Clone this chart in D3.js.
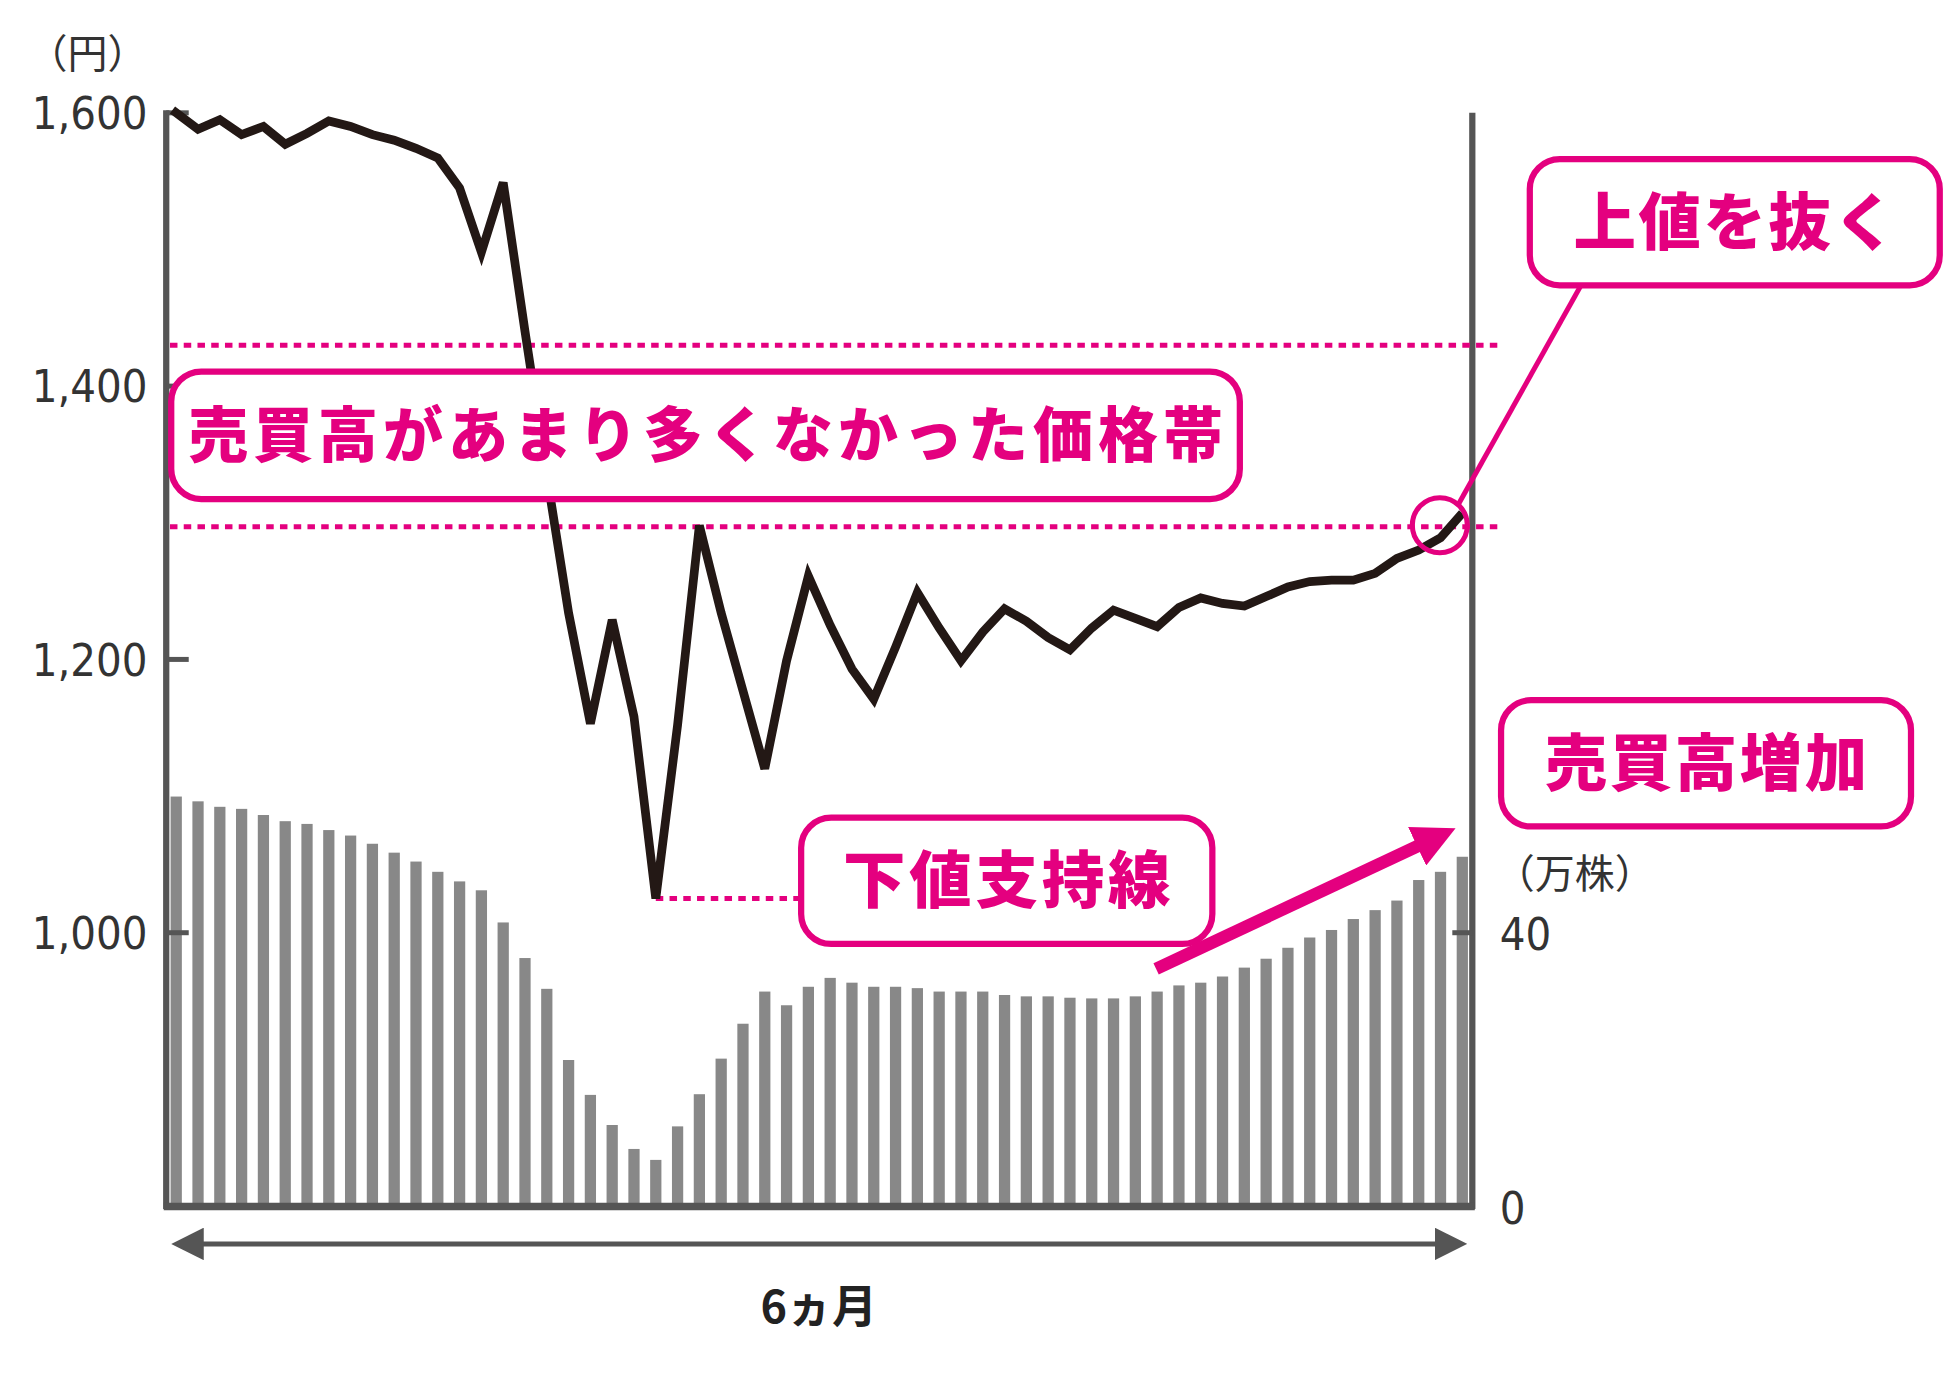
<!DOCTYPE html>
<html><head><meta charset="utf-8">
<script src="https://cdn.jsdelivr.net/npm/d3@7"></script>
<style>body{margin:0;background:#fff}</style>
</head><body><div class="chart"></div>
<script>
const WIDTH = 1956, HEIGHT = 1378;
const VW = 1565, VH = 1102;
const PINK = "#e4007f";
const FONT = "'Noto Sans CJK JP', sans-serif";
const NUMFONT = "'DejaVu Sans Condensed', 'Liberation Sans Narrow', sans-serif";

var priceTicks = [1000, 1200, 1400, 1600];
var priceLabels = ["1,000", "1,200", "1,400", "1,600"];
var volumeTicks = [0, 40];
var volume = [59.9, 59.2, 58.4, 58.1, 57.2, 56.3, 55.9, 55.0, 54.2, 53.0,
  51.7, 50.4, 48.9, 47.5, 46.2, 41.5, 36.3, 31.8, 21.4, 16.3,
  11.9, 8.4, 6.8, 11.7, 16.4, 21.6, 26.7, 31.4, 29.4, 32.1,
  33.4, 32.7, 32.1, 32.1, 31.9, 31.4, 31.4, 31.4, 30.9, 30.7,
  30.7, 30.5, 30.4, 30.4, 30.7, 31.4, 32.3, 32.7, 33.6, 34.9,
  36.2, 37.8, 39.3, 40.4, 42.0, 43.3, 44.7, 47.7, 48.9, 51.1];
var price = [1602, 1588, 1595, 1584, 1590, 1577, 1585, 1594, 1590, 1584,
  1580, 1574, 1567, 1545, 1498, 1549, 1440, 1335, 1234, 1153,
  1229, 1158, 1025, 1152, 1298, 1234, 1177, 1120, 1199, 1261,
  1225, 1193, 1171, 1209, 1249, 1223, 1199, 1220, 1237, 1228,
  1216, 1207, 1223, 1236, 1230, 1224, 1238, 1245, 1241, 1239,
  1246, 1253, 1257, 1258, 1258, 1263, 1274, 1280, 1289, 1307];
var bandTop = 1430, bandBottom = 1297, supportPrice = 1025;

var svg = d3.select('.chart').append('svg')
  .attr('width', WIDTH).attr('height', HEIGHT)
  .attr('viewBox', '0 0 ' + VW + ' ' + VH);

var x = d3.scalePoint().domain(d3.range(volume.length)).range([141, 1170]);
var yP = d3.scaleLinear().domain([1000, 1600]).range([746, 90]);
var yV = d3.scaleLinear().domain([0, 40]).range([965, 746]);

// volume bars
svg.append('g').selectAll('rect').data(volume).enter().append('rect')
  .attr('x', (d, i) => x(i) - 4.5).attr('width', 9)
  .attr('y', d => yV(d)).attr('height', d => yV(0) - yV(d))
  .attr('fill', '#888');

// axes frame
var axisColor = '#555';
svg.append('line').attr('x1', 133).attr('x2', 133).attr('y1', 88).attr('y2', 967).attr('stroke', axisColor).attr('stroke-width', 5);
svg.append('line').attr('x1', 1178).attr('x2', 1178).attr('y1', 90).attr('y2', 967).attr('stroke', axisColor).attr('stroke-width', 5);
svg.append('line').attr('x1', 131).attr('x2', 1180).attr('y1', 965).attr('y2', 965).attr('stroke', axisColor).attr('stroke-width', 6);

// left ticks
priceTicks.forEach((t, i) => {
  svg.append('line').attr('x1', 133).attr('x2', 151).attr('y1', yP(t)).attr('y2', yP(t)).attr('stroke', axisColor).attr('stroke-width', 4);
  svg.append('text').attr('x', 118).attr('y', yP(t) + 13).attr('text-anchor', 'end')
    .attr('font-family', NUMFONT).attr('font-size', 36).attr('fill', '#333').text(priceLabels[i]);
});
svg.append('text').attr('x', 22).attr('y', 54).attr('font-family', FONT).attr('font-size', 32).attr('fill', '#333').text('（円）');

// right ticks
svg.append('line').attr('x1', 1162).attr('x2', 1178).attr('y1', yV(40)).attr('y2', yV(40)).attr('stroke', axisColor).attr('stroke-width', 4);
volumeTicks.forEach(t => {
  svg.append('text').attr('x', 1200).attr('y', yV(t) + 14)
    .attr('font-family', NUMFONT).attr('font-size', 36).attr('fill', '#333').text(t);
});
svg.append('text').attr('x', 1196).attr('y', 710).attr('font-family', FONT).attr('font-size', 32).attr('fill', '#333').text('（万株）');

// dotted band lines
[bandTop, bandBottom].forEach(p => {
  svg.append('line').attr('x1', 136).attr('x2', 1198).attr('y1', yP(p)).attr('y2', yP(p))
    .attr('stroke', PINK).attr('stroke-width', 4).attr('stroke-dasharray', '6,5');
});
svg.append('line').attr('x1', x(22)).attr('x2', 640).attr('y1', yP(supportPrice)).attr('y2', yP(supportPrice))
  .attr('stroke', PINK).attr('stroke-width', 4).attr('stroke-dasharray', '6,5');

// price line
svg.append('path').datum(price)
  .attr('d', d3.line().x((d, i) => x(i) - (i === 0 ? 3 : 0)).y(d => yP(d)))
  .attr('fill', 'none').attr('stroke', '#231815').attr('stroke-width', 7).attr('stroke-linejoin', 'miter');

// callouts
function box(x0, y0, w, h, label, size, ls) {
  svg.append('rect').attr('x', x0).attr('y', y0).attr('width', w).attr('height', h)
    .attr('rx', 24).attr('fill', '#fff').attr('stroke', PINK).attr('stroke-width', 5);
  svg.append('text').attr('x', x0 + w / 2 + ls / 2).attr('y', y0 + h / 2 + size * 0.36)
    .attr('text-anchor', 'middle').attr('font-family', FONT).attr('font-weight', 900)
    .attr('letter-spacing', ls)
    .attr('font-size', size).attr('fill', PINK).text(label);
}
box(137, 297, 855, 102, '売買高があまり多くなかった価格帯', 48, 4);
box(1224, 127, 328, 101, '上値を抜く', 50, 2);
box(1201, 560, 328, 101, '売買高増加', 50, 2);
box(641, 654, 329, 101, '下値支持線', 50, 3);

// breakout circle + pointer
svg.append('circle').attr('cx', 1152).attr('cy', 420).attr('r', 22).attr('fill', 'none').attr('stroke', PINK).attr('stroke-width', 4);
svg.append('line').attr('x1', 1167).attr('y1', 403).attr('x2', 1265).attr('y2', 228).attr('stroke', PINK).attr('stroke-width', 4);

// volume-up arrow
svg.append('defs').append('marker').attr('id', 'ah').attr('viewBox', '0 0 10 10')
  .attr('refX', 2).attr('refY', 5).attr('markerWidth', 3.4).attr('markerHeight', 3.4).attr('orient', 'auto')
  .append('path').attr('d', 'M0,0L10,5L0,10z').attr('fill', PINK);
svg.append('line').attr('x1', 925).attr('y1', 775).attr('x2', 1140).attr('y2', 674)
  .attr('stroke', PINK).attr('stroke-width', 10).attr('marker-end', 'url(#ah)');

// period arrow
svg.append('defs').append('marker').attr('id', 'ga').attr('viewBox', '0 0 10 10')
  .attr('refX', 5).attr('refY', 5).attr('markerWidth', 6.5).attr('markerHeight', 6.5).attr('orient', 'auto-start-reverse')
  .append('path').attr('d', 'M0,0L10,5L0,10z').attr('fill', axisColor);
svg.append('line').attr('x1', 150).attr('x2', 1161).attr('y1', 995).attr('y2', 995)
  .attr('stroke', axisColor).attr('stroke-width', 4)
  .attr('marker-start', 'url(#ga)').attr('marker-end', 'url(#ga)');
svg.append('text').attr('x', 655).attr('y', 1058).attr('text-anchor', 'middle')
  .attr('font-family', FONT).attr('font-weight', 700).attr('font-size', 36).attr('fill', '#222').text('6ヵ月');
</script></body></html>
